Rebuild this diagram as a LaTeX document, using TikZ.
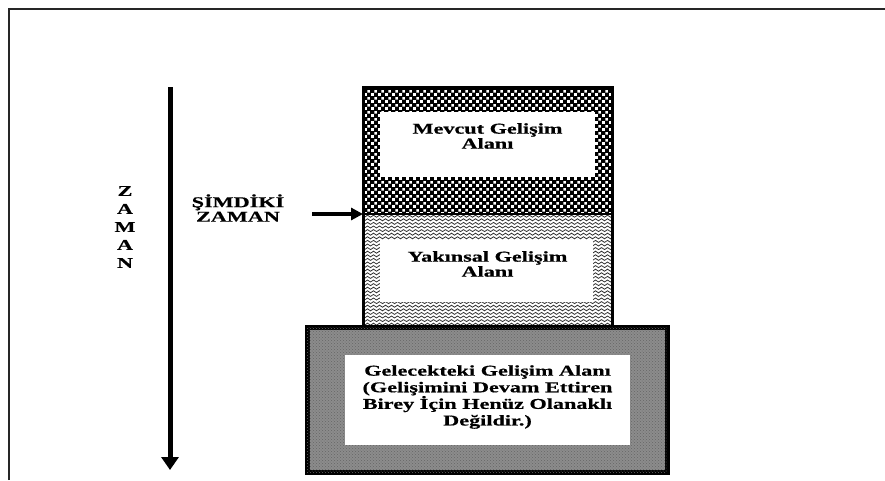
\documentclass[tikz,border=0pt]{standalone}
\usepackage{fontspec}
\setmainfont{Liberation Serif}[FakeStretch=1.48, FakeBold=0.6]
\usetikzlibrary{patterns,arrows.meta}
\pgfdeclarepatternformonly{chk}{\pgfpointorigin}{\pgfqpoint{7pt}{7pt}}{\pgfqpoint{7pt}{7pt}}{%
  \pgfpathrectangle{\pgfqpoint{0.2pt}{0.2pt}}{\pgfqpoint{3.1pt}{3.1pt}}%
  \pgfpathrectangle{\pgfqpoint{3.7pt}{3.7pt}}{\pgfqpoint{3.1pt}{3.1pt}}%
  \pgfusepath{fill}}
\pgfdeclarepatternformonly{wav}{\pgfqpoint{0pt}{-0.5pt}}{\pgfqpoint{6pt}{3.5pt}}{\pgfqpoint{6pt}{3.6pt}}{%
  \pgfsetlinewidth{0.8pt}%
  \pgfpathmoveto{\pgfqpoint{0pt}{1pt}}%
  \pgfpathsine{\pgfqpoint{1.5pt}{1pt}}%
  \pgfpathcosine{\pgfqpoint{1.5pt}{-1pt}}%
  \pgfpathsine{\pgfqpoint{1.5pt}{-1pt}}%
  \pgfpathcosine{\pgfqpoint{1.5pt}{1pt}}%
  \pgfusepath{stroke}}
\tikzset{
  zone/.style={rectangle, inner sep=0pt, outer sep=0pt},
  whitebox/.style={rectangle, fill=white, inner sep=0pt},
  lbl/.style={align=center, font=\bfseries\fontsize{15}{16}\selectfont, inner sep=0pt},
  frame/.style={line width=2pt, black!85},
}
\begin{document}
\begin{tikzpicture}[x=1pt,y=-1pt]
\useasboundingbox (0,0) rectangle (885,480);
\coordinate (fb) at (9,480);
\coordinate (fc) at (9,9);
\coordinate (fr) at (885,9);
\draw[frame] (fb) -- (fc) -- (fr);

% top box
\node[zone, minimum width=249pt, minimum height=127pt, fill=black,
      postaction={pattern=chk, pattern color=white}] (mevcut) at (487.5,150.5) {};
\node[whitebox, minimum width=215pt, minimum height=65pt] (mw) at (487.5,144.5) {};
\node[lbl, font=\bfseries\fontsize{15}{15}\selectfont] (mt) at (487.5,136) {Mevcut Gelişim\\Alanı};

% middle box
\node[zone, minimum width=249pt, minimum height=114pt, pattern=wav, pattern color=black!80] (yak) at (487.5,271) {};
\node[whitebox, minimum width=213pt, minimum height=62pt] (yw) at (486.5,271) {};
\node[lbl, font=\bfseries\fontsize{15}{15}\selectfont] (yt) at (487.5,264) {Yakınsal Gelişim\\Alanı};

\draw[line width=3pt] (mevcut.north west) rectangle (yak.south east);
\draw[line width=2pt] (mevcut.south west) -- (mevcut.south east);

% bottom box
\node[zone, minimum width=360pt, minimum height=145pt, fill=black!45, draw=black, line width=5pt,
      postaction={pattern=crosshatch dots, pattern color=black!60}] (gel) at (487,399.5) {};
\node[whitebox, minimum width=285pt, minimum height=90pt] (gw) at (487.5,400) {};
\node[lbl, font=\bfseries\fontsize{15}{16.6}\selectfont] (gt) at (487.5,397) {Gelecekteki Gelişim Alanı\\(Gelişimini Devam Ettiren\\Birey İçin Henüz Olanaklı\\Değildir.)};

% time axis
\coordinate (zt) at (170,87);
\coordinate (zb) at (170,470);
\draw[line width=5pt, -{Triangle[width=17pt,length=13pt]}] (zt) -- (zb);
\node[lbl, font=\bfseries\fontsize{15}{18}\selectfont] (zaman) at (125,227) {Z\\A\\M\\A\\N};

% present time
\node[lbl, font=\bfseries\fontsize{15}{14.5}\selectfont] (simdi) at (238,208) {ŞİMDİKİ\\ZAMAN};
\coordinate (sa) at (312,214);
\draw[line width=3.5pt, -{Triangle[width=12pt,length=12pt]}] (sa) -- (mevcut.south west);
\end{tikzpicture}
\end{document}
